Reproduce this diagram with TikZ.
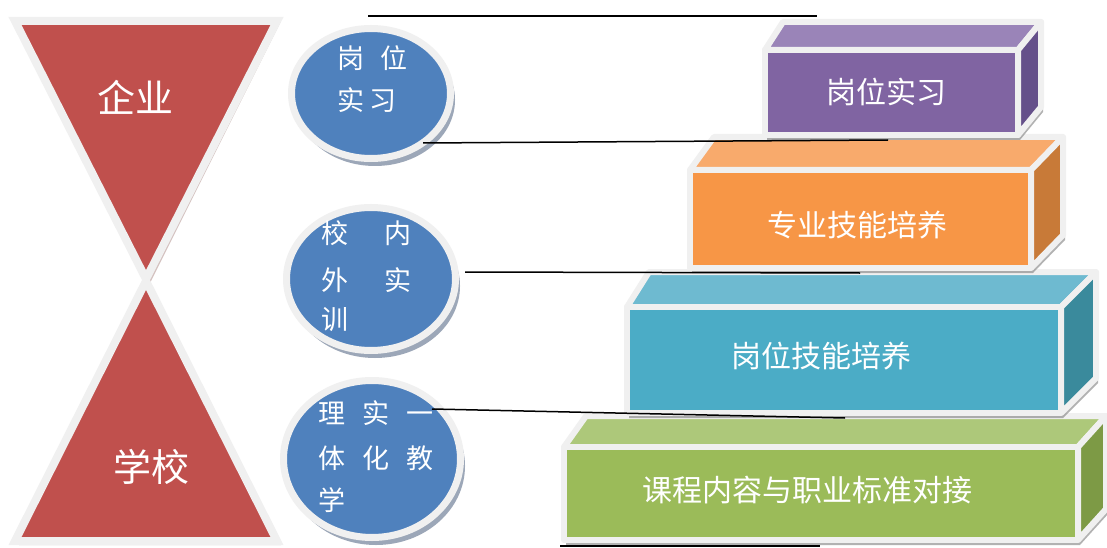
\documentclass[tikz,border=0pt]{standalone}
\usepackage{fontspec}
\newfontfamily\cjk{Noto Sans CJK SC}
\usetikzlibrary{shapes.geometric}
\definecolor{bord}{HTML}{F0F0F0}
\definecolor{redc}{HTML}{C0504D}
\definecolor{trishad}{HTML}{B89A96}
\definecolor{bluec}{HTML}{4F81BD}
\definecolor{circshad}{HTML}{9CA7B8}
\definecolor{purF}{HTML}{8064A2}
\definecolor{purT}{HTML}{9A84B8}
\definecolor{purS}{HTML}{65508A}
\definecolor{orgF}{HTML}{F79646}
\definecolor{orgT}{HTML}{F8AA6C}
\definecolor{orgS}{HTML}{C87A38}
\definecolor{teaF}{HTML}{4BACC6}
\definecolor{teaT}{HTML}{6EBAD0}
\definecolor{teaS}{HTML}{3A8A9C}
\definecolor{griF}{HTML}{9BBB59}
\definecolor{griT}{HTML}{ADC87A}
\definecolor{griS}{HTML}{7D9A45}
\tikzset{
  tri/.style={fill=redc, draw=bord, line width=8pt, line join=miter},
  trishadow/.style={fill=trishad, opacity=0.6},
  circ/.style={ellipse, fill=bluec, draw=bord, line width=7pt, inner sep=0pt},
  circshadow/.style={fill=circshad},
  face/.style={draw=bord, line width=6pt, line join=round},
  boxshadow/.style={fill=black!55, opacity=0.55},
  bigtxt/.style={text=white, font=\cjk\fontsize{38}{40}\selectfont, inner sep=0pt},
  ctxt/.style={text=white, font=\cjk\fontsize{27}{29}\selectfont, inner sep=0pt, anchor=west},
  btxt/.style={text=white, font=\cjk\fontsize{30}{32}\selectfont, inner sep=0pt},
  link/.style={draw=black, line width=1.5pt}
}
\begin{document}
\begin{tikzpicture}[x=1pt,y=-1pt]
\useasboundingbox (0,0) rectangle (1107,548);
\fill[white] (0,0) rectangle (1107,548);

% ---- triangles ----
\fill[trishadow] (19,21)--(281,21)--(150,283)--cycle;
\fill[trishadow] (150,285)--(281,545)--(19,545)--cycle;
\draw[tri] (15,21)--(277,21)--(146,279)--cycle;
\draw[tri] (146,281)--(277,541)--(15,541)--cycle;
\node[bigtxt] (qiye) at (135,97) {企业};
\node[bigtxt] (xuexiao) at (151,467) {学校};

% ---- circles ----
\fill[circshadow] (375,100) ellipse [x radius=80, y radius=66];
\fill[circshadow] (375,286) ellipse [x radius=85, y radius=72];
\fill[circshadow] (376,466) ellipse [x radius=89, y radius=79];
\node[circ, minimum width=159pt, minimum height=130pt] (c1) at (371,93.5) {};
\node[circ, minimum width=169pt, minimum height=143pt] (c2) at (371,279) {};
\node[circ, minimum width=177pt, minimum height=157pt] (c3) at (372,459) {};

\node[ctxt] (c1a) at (337,58) {岗\hspace{16pt}位};
\node[ctxt] (c1b) at (337,100) {实\hspace{5pt}习};
\node[ctxt] (c2a) at (321,233) {校\hspace{36pt}内};
\node[ctxt] (c2b) at (321,280) {外\hspace{36pt}实};
\node[ctxt] (c2c) at (321,320) {训};
\node[ctxt] (c3a) at (318,413) {理\hspace{17pt}实\hspace{17pt}一};
\node[ctxt] (c3b) at (318,458) {体\hspace{17pt}化\hspace{17pt}教};
\node[ctxt] (c3c) at (318,500) {学};

% ---- green box ----
\fill[boxshadow, shift={(2,5)}] (564,447)--(586,416)--(1106,416)--(1106,509)--(1078,540)--(564,540)--cycle;
\draw[face, fill=griT] (564,447)--(586,416)--(1106,416)--(1078,447)--cycle;
\draw[face, fill=griS] (1078,447)--(1106,416)--(1106,509)--(1078,540)--cycle;
\draw[face, fill=griF] (564,447) rectangle (1078,540);
\node[btxt] (b4) at (807,490) {课程内容与职业标准对接};

% ---- teal box ----
\fill[boxshadow, shift={(2,5)}] (627,307)--(649,272)--(1096,272)--(1096,378)--(1061,413)--(627,413)--cycle;
\draw[face, fill=teaT] (627,307)--(649,272)--(1096,272)--(1061,307)--cycle;
\draw[face, fill=teaS] (1061,307)--(1096,272)--(1096,378)--(1061,413)--cycle;
\draw[face, fill=teaF] (627,307) rectangle (1061,413);
\node[btxt] (b3) at (821,356) {岗位技能培养};

% ---- orange box ----
\fill[boxshadow, shift={(2,5)}] (690,170)--(714,137)--(1063,137)--(1063,235)--(1031,268)--(690,268)--cycle;
\draw[face, fill=orgT] (690,170)--(714,137)--(1063,137)--(1031,170)--cycle;
\draw[face, fill=orgS] (1031,170)--(1063,137)--(1063,235)--(1031,268)--cycle;
\draw[face, fill=orgF] (690,170) rectangle (1031,268);
\node[btxt] (b2) at (857,225) {专业技能培养};

% ---- purple box ----
\fill[boxshadow, shift={(2,5)}] (765,50)--(783,22)--(1041,22)--(1041,107)--(1018,135)--(765,135)--cycle;
\draw[face, fill=purT] (765,50)--(783,22)--(1041,22)--(1018,50)--cycle;
\draw[face, fill=purS] (1018,50)--(1041,22)--(1041,107)--(1018,135)--cycle;
\draw[face, fill=purF] (765,50) rectangle (1018,135);
\node[btxt] (b1) at (886,92) {岗位实习};

% ---- lines ----
\coordinate (l1a) at (368,16);
\coordinate (l1b) at (817,16);
\coordinate (l2a) at (423,143);
\coordinate (l2b) at (888,140);
\coordinate (l3a) at (465,272);
\coordinate (l3b) at (860,273);
\coordinate (l4a) at (432,409);
\coordinate (l4b) at (845,418);
\coordinate (l5a) at (560,546);
\coordinate (l5b) at (820,546);
\draw[link] (l1a) -- (l1b);
\draw[link] (l2a) -- (l2b);
\draw[link] (l3a) -- (l3b);
\draw[link] (l4a) -- (l4b);
\draw[link] (l5a) -- (l5b);
\end{tikzpicture}
\end{document}
